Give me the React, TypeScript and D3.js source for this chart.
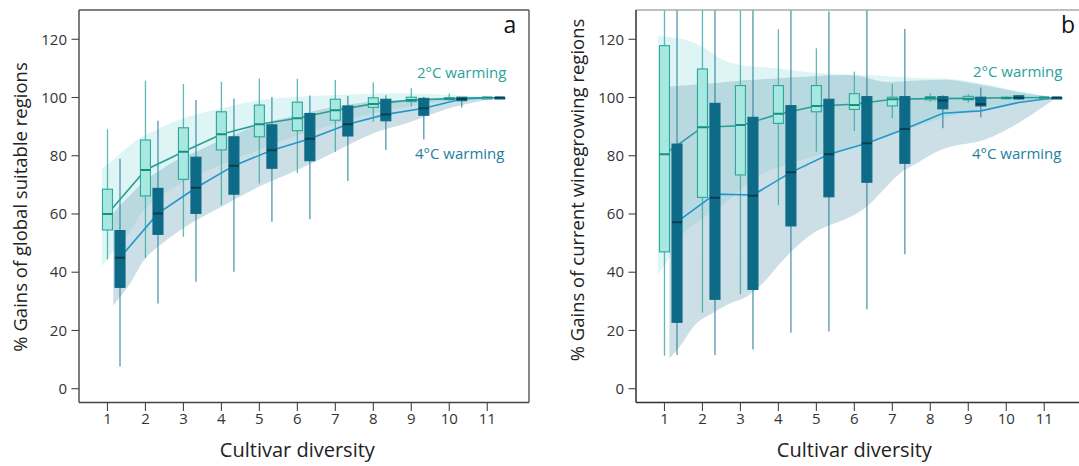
import React from "react";
import * as d3 from "d3";

// ---- shared axes ----
const diversity = [1, 2, 3, 4, 5, 6, 7, 8, 9, 10, 11];
const yTickValues = [0, 20, 40, 60, 80, 100, 120];

// ---- panel a: global suitable regions ----
const aWarm2Median = [60.0, 75.1, 81.4, 87.4, 90.8, 92.9, 95.6, 97.8, 99.1, 99.6, 100];
const aWarm2Q1 = [54.5, 66.2, 71.9, 82.0, 86.5, 88.6, 92.2, 96.6, 98.6, 99.3, 100];
const aWarm2Q3 = [68.5, 85.4, 89.6, 95.1, 97.4, 98.4, 99.4, 99.9, 100.1, 99.9, 100];
const aWarm2Low = [44.4, 44.8, 52.2, 63.0, 70.5, 74.0, 81.4, 91.7, 97.0, 99.0, 100];
const aWarm2High = [89.1, 105.8, 104.6, 105.4, 106.5, 106.4, 106.0, 105.2, 103.2, 101.4, 100];
const aWarm2Mean = [60.0, 75.1, 81.4, 87.4, 90.8, 92.9, 95.6, 97.8, 99.1, 99.6, 100];

const aWarm4Median = [45.0, 60.2, 69.0, 76.6, 81.9, 85.8, 90.8, 94.2, 96.3, 99.5, 100];
const aWarm4Q1 = [34.8, 53.0, 60.2, 66.8, 75.7, 78.3, 86.8, 92.0, 93.9, 98.9, 100];
const aWarm4Q3 = [54.3, 68.8, 79.5, 86.5, 90.6, 94.5, 97.1, 99.4, 99.7, 100.1, 100];
const aWarm4Low = [7.6, 29.3, 36.7, 40.2, 57.3, 58.2, 71.3, 82.0, 85.6, 96.6, 100];
const aWarm4High = [79.0, 92.0, 99.1, 99.7, 100.2, 100.7, 100.5, 100.8, 100.3, 100.2, 100];
const aWarm4Mean = [45.0, 60.2, 69.0, 76.6, 81.9, 85.8, 90.8, 94.2, 96.3, 99.5, 100];

const aBand2X = [0.85, 1.15, 1.6, 2, 3, 4, 5, 6, 7, 8, 9, 10, 11.25];
const aBand2Upper = [75.6, 78.5, 83.7, 87.1, 92.9, 96.3, 99.1, 100.3, 100.9, 101.3, 101.4, 100.9, 100];
const aBand2Lower = [42, 47, 54, 62, 71, 77, 82, 87, 91, 94.5, 97, 98.8, 100];

const aBand4X = [1.15, 1.6, 2, 2.5, 3, 3.35, 4, 5, 6, 7, 8, 9, 10, 11.3];
const aBand4Upper = [60.2, 66.5, 71.6, 76, 79.7, 81.5, 85.4, 90.6, 94, 96.8, 98.6, 99.3, 99.8, 100];
const aBand4Lower = [28.4, 36.2, 44.8, 50.5, 55.1, 57.9, 62.5, 69.4, 75.1, 81.4, 87.7, 91.7, 96.3, 100];

// ---- panel b: current winegrowing regions ----
const bWarm2Median = [80.5, 89.8, 90.6, 94.4, 97.1, 97.4, 99.4, 99.8, 99.6, 99.8, 100];
const bWarm2Q1 = [47.0, 65.7, 73.4, 91.1, 95.1, 95.9, 97.1, 99.2, 99.2, 99.6, 100];
const bWarm2Q3 = [117.8, 109.8, 104.1, 104.1, 104.1, 101.3, 100.1, 100.3, 100.4, 100.1, 100];
const bWarm2Low = [11.3, 26.1, 32.4, 63.0, 81.4, 88.5, 92.9, 98.5, 98.2, 99.3, 100];
const bWarm2High = [135, 135, 135, 123.4, 116.9, 108.9, 104.6, 101.5, 101.2, 100.4, 100];
const bWarm2Mean = [80.5, 89.8, 90.3, 94.3, 97.1, 97.7, 99.4, 99.6, 99.7, 99.9, 100];

const bWarm4Median = [57.2, 65.6, 66.3, 74.3, 80.5, 84.3, 89.2, 99.0, 97.7, 99.9, 100];
const bWarm4Q1 = [22.8, 30.7, 34.1, 55.9, 65.9, 70.9, 77.4, 96.1, 97.1, 99.5, 100];
const bWarm4Q3 = [84.0, 98.0, 93.2, 97.2, 99.4, 100.3, 100.3, 100.3, 100.1, 100.6, 100];
const bWarm4Low = [11.6, 11.6, 13.5, 19.2, 19.6, 27.3, 46.2, 89.4, 93.2, 99.2, 100];
const bWarm4High = [135, 135, 135, 135, 129.5, 135, 123.5, 100.8, 103.4, 100.8, 100];
const bWarm4Mean = [57.3, 66.8, 66.5, 74.3, 80.5, 84.3, 89.2, 94.6, 95.4, 98.3, 100];

const bBand2X = [0.82, 1.13, 1.48, 2, 2.54, 3, 3.6, 4, 5, 5.8, 6.5, 7.5, 8.5, 9.5, 10.3, 11.25];
const bBand2Upper = [121.4, 120.8, 120.1, 117.4, 112.9, 111.2, 110.5, 110, 108.5, 107.9, 107.6, 106.8, 106.4, 104.5, 102.3, 100];
const bBand2Lower = [39, 45, 53, 58.5, 63, 68.5, 74, 76, 80, 82.3, 85, 89.5, 93.5, 96.5, 98.3, 100];

const bBand4X = [1.13, 1.4, 1.84, 2.27, 2.72, 3.16, 3.59, 4.04, 4.48, 4.91, 5.36, 5.89, 6.33, 6.76, 7.21, 7.65, 8.08, 8.53, 9.41, 10.3, 11.33];
const bBand4Upper = [103.7, 104, 104.5, 104.9, 105.5, 106, 106.3, 106.6, 107, 107.3, 107.6, 107.7, 106.8, 105.4, 105.5, 105.8, 106, 106, 104.2, 101.9, 100];
const bBand4Lower = [10.4, 14.4, 22.4, 26, 29.3, 31.6, 36.2, 43, 48.8, 53.4, 56.2, 59, 62.5, 68.2, 74, 77.4, 80.8, 83.1, 85.4, 91.1, 100];

// ---- layout & style ----
const WIDTH = 1079;
const HEIGHT = 466;
const FONT = "'Open Sans', 'Noto Sans', sans-serif";
const PLOT_TOP = 10;
const PLOT_BOTTOM = 402.5;
const X_DOMAIN: [number, number] = [0.25, 12.1];
const Y_DOMAIN: [number, number] = [-4.74, 130.05];
const OFFSET_4C = 0.33;
const BOX_WIDTH = 10;

const C2 = {
  band: "#dff6f6",
  boxFill: "#a7e9e1",
  boxStroke: "#2da69b",
  median: "#188d84",
  whisker: "#36aaa2",
  line: "#2a9f97",
  text: "#27a399",
};
const C4 = {
  band: "#7fb0c0",
  boxFill: "#0e6b87",
  boxStroke: "#0e6b87",
  median: "#083e51",
  whisker: "#2a7e9b",
  line: "#1f98cc",
  text: "#1e7f9f",
};

type Series = {
  median: number[];
  q1: number[];
  q3: number[];
  low: number[];
  high: number[];
  mean: number[];
};

type Band = { x: number[]; upper: number[]; lower: number[] };

type PanelProps = {
  id: string;
  left: number;
  right: number;
  letterX: number;
  yTitle: string;
  yTitleX: number;
  yTitleY: number;
  warm2: Series;
  warm4: Series;
  band2: Band;
  band4: Band;
  label2: [number, number];
  label4: [number, number];
  frame: { top: string; left: string; bottom: string; right: string };
};

function bandPath(band: Band, x: d3.ScaleLinear<number, number>, y: d3.ScaleLinear<number, number>) {
  const line = d3
    .line<[number, number]>()
    .x((d) => x(d[0]))
    .y((d) => y(d[1]))
    .curve(d3.curveCatmullRom.alpha(0.5));
  const up = band.x.map((v, i) => [v, band.upper[i]] as [number, number]);
  const lo = band.x.map((v, i) => [v, band.lower[i]] as [number, number]).reverse();
  const upD = line(up) || "";
  const loD = (line(lo) || "").replace(/^M/, "L");
  return upD + loD + "Z";
}

function Boxes({
  s,
  off,
  c,
  x,
  y,
}: {
  s: Series;
  off: number;
  c: typeof C2;
  x: d3.ScaleLinear<number, number>;
  y: d3.ScaleLinear<number, number>;
}) {
  return (
    <g>
      {diversity.map((d, i) => {
        const cx = x(d + off);
        const top = y(s.q3[i]);
        const bottom = y(s.q1[i]);
        return (
          <g key={d}>
            <rect
              x={cx - BOX_WIDTH / 2}
              y={Math.min(top, bottom)}
              width={BOX_WIDTH}
              height={Math.max(1.5, Math.abs(bottom - top))}
              fill={c.boxFill}
              stroke={c.boxStroke}
              strokeWidth={1.1}
            />
            <line
              x1={cx - BOX_WIDTH / 2}
              x2={cx + BOX_WIDTH / 2}
              y1={y(s.median[i])}
              y2={y(s.median[i])}
              stroke={c.median}
              strokeWidth={2}
            />
          </g>
        );
      })}
    </g>
  );
}

function Whiskers({
  s,
  off,
  c,
  x,
  y,
}: {
  s: Series;
  off: number;
  c: typeof C2;
  x: d3.ScaleLinear<number, number>;
  y: d3.ScaleLinear<number, number>;
}) {
  return (
    <g opacity={0.8}>
      {diversity.map((d, i) => (
        <line
          key={d}
          x1={x(d + off)}
          x2={x(d + off)}
          y1={y(s.high[i])}
          y2={y(s.low[i])}
          stroke={c.whisker}
          strokeWidth={1.3}
        />
      ))}
    </g>
  );
}

function Panel(p: PanelProps) {
  const x = d3.scaleLinear().domain(X_DOMAIN).range([p.left, p.right]);
  const y = d3.scaleLinear().domain(Y_DOMAIN).range([PLOT_BOTTOM, PLOT_TOP]);
  const clipId = `clip-${p.id}`;
  const trend = (off: number) =>
    d3
      .line<number>()
      .x((_, i) => x(diversity[i] + off))
      .y((v) => y(v));

  return (
    <g>
      <defs>
        <clipPath id={clipId}>
          <rect x={p.left} y={PLOT_TOP} width={p.right - p.left} height={PLOT_BOTTOM - PLOT_TOP} />
        </clipPath>
      </defs>
      <g clipPath={`url(#${clipId})`}>
        <path d={bandPath(p.band2, x, y)} fill={C2.band} />
        <path d={bandPath(p.band4, x, y)} fill={C4.band} fillOpacity={0.4} />
        <Whiskers s={p.warm2} off={0} c={C2} x={x} y={y} />
        <Whiskers s={p.warm4} off={OFFSET_4C} c={C4} x={x} y={y} />
        <path d={trend(0)(p.warm2.mean) || ""} fill="none" stroke={C2.line} strokeWidth={1.6} />
        <path d={trend(OFFSET_4C)(p.warm4.mean) || ""} fill="none" stroke={C4.line} strokeWidth={1.6} />
        <Boxes s={p.warm2} off={0} c={C2} x={x} y={y} />
        <Boxes s={p.warm4} off={OFFSET_4C} c={C4} x={x} y={y} />
      </g>

      {/* frame */}
      <line x1={p.left} x2={p.right} y1={PLOT_TOP} y2={PLOT_TOP} stroke={p.frame.top} strokeWidth={1.4} />
      <line x1={p.left} x2={p.right} y1={PLOT_BOTTOM} y2={PLOT_BOTTOM} stroke={p.frame.bottom} strokeWidth={1.4} />
      <line x1={p.left} x2={p.left} y1={PLOT_TOP} y2={PLOT_BOTTOM} stroke={p.frame.left} strokeWidth={1.4} />
      <line x1={p.right} x2={p.right} y1={PLOT_TOP} y2={PLOT_BOTTOM} stroke={p.frame.right} strokeWidth={1.4} />

      {/* y axis */}
      {yTickValues.map((t) => (
        <g key={t}>
          <line x1={p.left - 7.5} x2={p.left} y1={y(t)} y2={y(t)} stroke="#444" strokeWidth={1.1} />
          <text
            x={p.left - 12}
            y={y(t)}
            dy="0.35em"
            textAnchor="end"
            fontSize={15}
            fontFamily={FONT}
            fill="#333"
          >
            {t}
          </text>
        </g>
      ))}
      <text
        transform={`translate(${p.yTitleX},${p.yTitleY}) rotate(-90)`}
        textAnchor="middle"
        dy="0.35em"
        fontSize={18.5}
        fontFamily={FONT}
        fill="#222"
      >
        {p.yTitle}
      </text>

      {/* x axis */}
      {diversity.map((d) => (
        <g key={d}>
          <line x1={x(d)} x2={x(d)} y1={PLOT_BOTTOM} y2={PLOT_BOTTOM + 8.5} stroke="#444" strokeWidth={1.1} />
          <text x={x(d)} y={424} textAnchor="middle" fontSize={15} fontFamily={FONT} fill="#333">
            {d}
          </text>
        </g>
      ))}
      <text
        x={x(6)}
        y={457}
        textAnchor="middle"
        fontSize={20}
        fontFamily={FONT}
        fill="#222"
      >
        Cultivar diversity
      </text>

      {/* labels */}
      <text x={p.letterX} y={33} textAnchor="middle" fontSize={23} fontFamily={FONT} fill="#111">
        {p.id}
      </text>
      <text x={p.label2[0]} y={p.label2[1]} fontSize={15} fontFamily={FONT} fill={C2.text}>
        2°C warming
      </text>
      <text x={p.label4[0]} y={p.label4[1]} fontSize={15} fontFamily={FONT} fill={C4.text}>
        4°C warming
      </text>
    </g>
  );
}

export default function App() {
  const aWarm2: Series = {
    median: aWarm2Median,
    q1: aWarm2Q1,
    q3: aWarm2Q3,
    low: aWarm2Low,
    high: aWarm2High,
    mean: aWarm2Mean,
  };
  const aWarm4: Series = {
    median: aWarm4Median,
    q1: aWarm4Q1,
    q3: aWarm4Q3,
    low: aWarm4Low,
    high: aWarm4High,
    mean: aWarm4Mean,
  };
  const bWarm2: Series = {
    median: bWarm2Median,
    q1: bWarm2Q1,
    q3: bWarm2Q3,
    low: bWarm2Low,
    high: bWarm2High,
    mean: bWarm2Mean,
  };
  const bWarm4: Series = {
    median: bWarm4Median,
    q1: bWarm4Q1,
    q3: bWarm4Q3,
    low: bWarm4Low,
    high: bWarm4High,
    mean: bWarm4Mean,
  };

  return (
    <svg
      width={WIDTH}
      height={HEIGHT}
      viewBox={`0 0 ${WIDTH} ${HEIGHT}`}
      style={{ position: "absolute", left: 0, top: 0, background: "#fff" }}
    >
      <rect width={WIDTH} height={HEIGHT} fill="#fff" />
      <Panel
        id="a"
        left={79}
        right={529}
        letterX={510}
        yTitle="% Gains of global suitable regions"
        yTitleX={21}
        yTitleY={207}
        warm2={aWarm2}
        warm4={aWarm4}
        band2={{ x: aBand2X, upper: aBand2Upper, lower: aBand2Lower }}
        band4={{ x: aBand4X, upper: aBand4Upper, lower: aBand4Lower }}
        label2={[417, 77.5]}
        label4={[415, 159]}
        frame={{ top: "#555", left: "#444", bottom: "#444", right: "#555" }}
      />
      <Panel
        id="b"
        left={636}
        right={1086}
        letterX={1068}
        yTitle="% Gains of current winegrowing regions"
        yTitleX={578}
        yTitleY={190}
        warm2={bWarm2}
        warm4={bWarm4}
        band2={{ x: bBand2X, upper: bBand2Upper, lower: bBand2Lower }}
        band4={{ x: bBand4X, upper: bBand4Upper, lower: bBand4Lower }}
        label2={[973, 76.5]}
        label4={[972, 159]}
        frame={{ top: "#aaa", left: "#222", bottom: "#333", right: "#333" }}
      />
    </svg>
  );
}
